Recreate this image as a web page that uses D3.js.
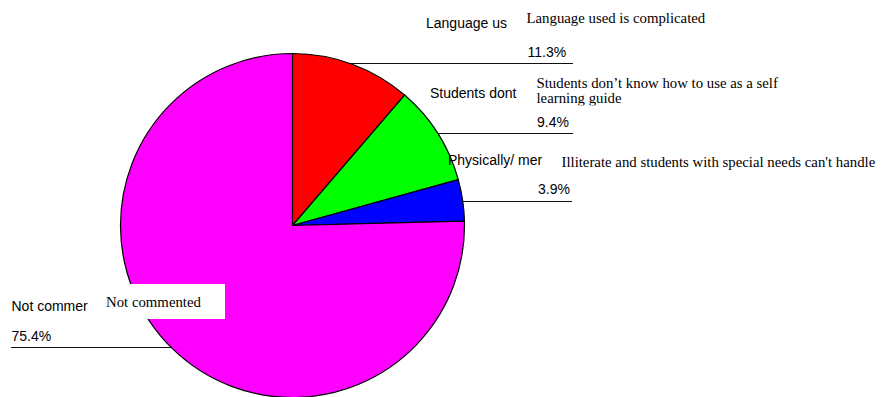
<!DOCTYPE html>
<html>
<head>
<meta charset="utf-8">
<script src="https://cdn.jsdelivr.net/npm/d3@7"></script>
<style>
  html, body { margin: 0; padding: 0; background: #fff; }
  svg { display: block; }
</style>
</head>
<body>
<svg id="chart" width="884" height="397"></svg>
<script>
// Responses, clockwise from 12 o'clock
const categories = [
  "Language used is complicated",
  "Students don’t know how to use as a self learning guide",
  "Illiterate and students with special needs can't handle",
  "Not commented"
];
const shortLabels = ["Language us", "Students dont", "Physically/ mer", "Not commer"];
const values = [11.3, 9.4, 3.9, 75.4];
const colors = ["#ff0000", "#00ff00", "#0000ff", "#ff00ff"];

// Callout layout: caption lines (serif), truncated name and percentage (sans), leader line
const callouts = [
  { name: [426, 27.5], pct: [527.5, 57, "start"], lineY: 63.5, lineX: 573, cap: [526.5, 22.5], capLines: ["Language used is complicated"] },
  { name: [430, 98],   pct: [537, 127.3, "start"], lineY: 133.5, lineX: 573, cap: [536.5, 88.3], capLines: ["Students don’t know how to use as a self", "learning guide"], clipBottom: 105.5 },
  { name: [448, 165],  pct: [570, 194.3, "end"], lineY: 201.5, lineX: 572, cap: [561.5, 167.3], capLines: ["Illiterate and students with special needs can't handle"] },
  { name: [11.5, 311], pct: [11.5, 341, "start"], lineY: 347.5, lineX: 11, cap: [106, 306.7], capLines: ["Not commented"], box: [100, 284, 125, 35] }
];

const svg = d3.select("#chart");
const cx = 292.5, cy = 225.5, r = 172;

const pie = d3.pie().sort(null).value(d => d)(values);
const arc = d3.arc().innerRadius(0).outerRadius(r);

// leader lines run behind the pie
svg.append("g").selectAll("line").data(callouts).join("line")
  .attr("x1", cx).attr("x2", d => d.lineX)
  .attr("y1", d => d.lineY).attr("y2", d => d.lineY)
  .attr("stroke", "#111").attr("stroke-width", 1);

svg.append("g").attr("transform", `translate(${cx},${cy})`)
  .selectAll("path").data(pie).join("path")
  .attr("d", arc)
  .attr("fill", (d, i) => colors[i])
  .attr("stroke", "#000").attr("stroke-width", 1.2).attr("stroke-linejoin", "round");

const fmt = d3.format(".1f");
const labels = svg.append("g");

callouts.forEach((c, i) => {
  labels.append("text")
    .attr("x", c.name[0]).attr("y", c.name[1])
    .attr("font-family", "'Liberation Sans', Arial, sans-serif").attr("font-size", 14)
    .attr("fill", "#000").text(shortLabels[i]);
  labels.append("text")
    .attr("x", c.pct[0]).attr("y", c.pct[1]).attr("text-anchor", c.pct[2])
    .attr("font-family", "'Liberation Sans', Arial, sans-serif").attr("font-size", 14)
    .attr("fill", "#000").text(fmt(values[i]) + "%");

  const g = labels.append("g");
  if (c.box) {
    g.append("rect").attr("x", c.box[0]).attr("y", c.box[1])
      .attr("width", c.box[2]).attr("height", c.box[3]).attr("fill", "#fff");
  }
  if (c.clipBottom) {
    const id = "clip" + i;
    svg.append("defs").append("clipPath").attr("id", id)
      .append("rect").attr("x", 0).attr("y", 0).attr("width", 884).attr("height", c.clipBottom);
    g.attr("clip-path", `url(#${id})`);
  }
  c.capLines.forEach((t, k) => {
    g.append("text")
      .attr("x", c.cap[0]).attr("y", c.cap[1] + k * 15)
      .attr("font-family", "'Liberation Serif', 'Times New Roman', serif").attr("font-size", 14.8)
      .attr("fill", "#000").text(t);
  });
});
</script>
</body>
</html>
